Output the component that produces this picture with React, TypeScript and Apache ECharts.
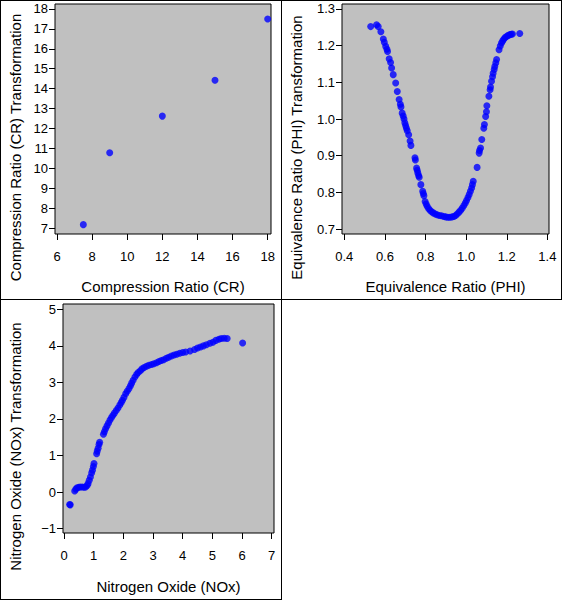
import React, { useEffect, useRef } from "react";
import * as echarts from "echarts";

// Compression Ratio
const crX = [7.5, 9, 12, 15, 18];
const crY = [7.17, 10.78, 12.62, 14.42, 17.5];

// Equivalence Ratio
const phiX = [0.530,0.559,0.567,0.580,0.592,0.597,0.604,0.610,0.613,0.621,0.628,0.633,0.641,0.653,0.661,0.670,0.676,0.679,0.685,0.690,0.694,0.698,0.702,0.706,0.710,0.717,0.724,0.728,0.748,0.750,0.756,0.759,0.762,0.766,0.769,0.777,0.786,0.789,0.792,0.798,0.803,0.808,0.815,0.822,0.830,0.838,0.848,0.857,0.868,0.879,0.890,0.900,0.910,0.920,0.930,0.940,0.948,0.956,0.965,0.973,0.981,0.989,0.996,1.002,1.009,1.015,1.021,1.027,1.031,1.035,1.054,1.064,1.066,1.071,1.077,1.087,1.090,1.096,1.100,1.102,1.112,1.118,1.120,1.125,1.130,1.133,1.138,1.141,1.146,1.150,1.162,1.168,1.174,1.180,1.186,1.192,1.199,1.207,1.215,1.222,1.228,1.264];
const phiY = [1.252,1.257,1.252,1.238,1.218,1.209,1.198,1.190,1.184,1.164,1.154,1.139,1.121,1.098,1.075,1.053,1.040,1.033,1.016,1.008,1.000,0.990,0.982,0.975,0.968,0.957,0.940,0.928,0.894,0.888,0.866,0.860,0.853,0.846,0.841,0.821,0.803,0.797,0.791,0.775,0.768,0.762,0.756,0.751,0.747,0.744,0.741,0.739,0.737,0.736,0.734,0.733,0.732,0.732,0.733,0.734,0.737,0.741,0.746,0.751,0.757,0.764,0.771,0.778,0.786,0.794,0.803,0.812,0.821,0.830,0.868,0.907,0.914,0.921,0.944,0.975,0.985,1.007,1.020,1.036,1.062,1.080,1.087,1.103,1.115,1.125,1.135,1.143,1.153,1.162,1.189,1.199,1.207,1.213,1.218,1.222,1.225,1.228,1.230,1.231,1.232,1.233];

// Nitrogen Oxide
const noxX = [0.19,0.21,0.36,0.40,0.44,0.50,0.55,0.62,0.68,0.73,0.78,0.81,0.85,0.89,0.93,0.96,0.99,1.01,1.10,1.12,1.15,1.18,1.20,1.33,1.36,1.40,1.45,1.50,1.55,1.60,1.65,1.70,1.76,1.82,1.88,1.93,1.97,2.02,2.08,2.13,2.19,2.24,2.28,2.33,2.39,2.45,2.50,2.57,2.63,2.70,2.78,2.86,2.95,3.03,3.12,3.20,3.28,3.36,3.45,3.53,3.62,3.71,3.80,3.90,4.00,4.10,4.25,4.40,4.50,4.60,4.70,4.80,4.92,5.02,5.12,5.22,5.30,5.40,5.50,6.02];
const noxY = [-0.34,-0.35,0.03,0.08,0.12,0.13,0.14,0.14,0.13,0.14,0.18,0.23,0.32,0.41,0.52,0.60,0.70,0.78,1.05,1.12,1.20,1.30,1.36,1.58,1.65,1.73,1.81,1.89,1.97,2.04,2.10,2.16,2.23,2.30,2.38,2.45,2.51,2.59,2.69,2.76,2.83,2.91,2.98,3.06,3.15,3.22,3.27,3.32,3.37,3.41,3.44,3.47,3.49,3.51,3.54,3.57,3.60,3.62,3.66,3.69,3.72,3.75,3.77,3.80,3.82,3.83,3.86,3.90,3.94,3.97,4.00,4.03,4.07,4.10,4.15,4.18,4.20,4.21,4.20,4.08];

// Tick values
const crXTicks = [6, 8, 10, 12, 14, 16, 18];
const crYTicks = [7, 8, 9, 10, 11, 12, 13, 14, 15, 16, 17, 18];
const phiXTicks = [0.4, 0.6, 0.8, 1.0, 1.2, 1.4];
const phiYTicks = [0.7, 0.8, 0.9, 1.0, 1.1, 1.2, 1.3];
const noxXTicks = [0, 1, 2, 3, 4, 5, 6, 7];
const noxYTicks = [-1, 0, 1, 2, 3, 4, 5];

const FONT = "'Liberation Sans', Arial, Helvetica, sans-serif";

const zip = (a: number[], b: number[]) => a.map((v, i) => [v, b[i]]);

function mkAxis(
  gridIndex: number,
  min: number,
  max: number,
  ticks: number[],
  fmt: (v: number) => string,
  isY: boolean
) {
  return {
    type: "value",
    gridIndex,
    min,
    max,
    position: isY ? "left" : "bottom",
    axisLine: { show: false, onZero: false },
    splitLine: { show: false },
    axisTick: {
      show: true,
      inside: false,
      length: 6,
      customValues: ticks,
      lineStyle: { color: "#000", width: 1 },
    },
    axisLabel: {
      show: true,
      customValues: ticks,
      formatter: (v: number) => fmt(v),
      color: "#000",
      fontFamily: FONT,
      fontSize: 13,
      margin: isY ? 7 : 16,
    },
  };
}

export default function App() {
  const ref = useRef<HTMLDivElement>(null);
  useEffect(() => {
    if (!ref.current) return;
    const chart = echarts.init(ref.current, null, { renderer: "svg" });
    const intFmt = (v: number) => (v < 0 ? "\u2212" + Math.abs(Math.round(v)) : String(Math.round(v)));
    const dec1 = (v: number) => v.toFixed(1);
    const gridStyle = {
      show: true,
      backgroundColor: "#C0C0C0",
      borderColor: "#000",
      borderWidth: 1,
      containLabel: false,
    };
    const titleStyle = (text: string) => ({
      text,
      font: `15px ${FONT}`,
      fill: "#000",
      textAlign: "center",
      textVerticalAlign: "middle",
    });
    const line = (x1: number, y1: number, x2: number, y2: number) => ({
      type: "line",
      shape: { x1, y1, x2, y2 },
      style: { stroke: "#000", lineWidth: 1 },
      silent: true,
    });
    const symbolStyle = { color: "#0000FF" };
    chart.setOption({
      animation: false,
      backgroundColor: "#FFFFFF",
      grid: [
        { ...gridStyle, left: 55, top: 4, width: 216, height: 230 },
        { ...gridStyle, left: 342, top: 4, width: 207, height: 230 },
        { ...gridStyle, left: 63, top: 304, width: 211, height: 229 },
      ],
      xAxis: [
        mkAxis(0, 5.886, 18.19, crXTicks, intFmt, false),
        mkAxis(1, 0.3887, 1.408, phiXTicks, dec1, false),
        mkAxis(2, -0.034, 7.078, noxXTicks, intFmt, false),
      ],
      yAxis: [
        mkAxis(0, 6.7, 18.25, crYTicks, intFmt, true),
        mkAxis(1, 0.6864, 1.3136, phiYTicks, dec1, true),
        mkAxis(2, -1.12, 5.145, noxYTicks, intFmt, true),
      ],
      series: [
        {
          type: "scatter",
          xAxisIndex: 0,
          yAxisIndex: 0,
          data: zip(crX, crY),
          symbol: "circle",
          symbolSize: 7,
          itemStyle: symbolStyle,
        },
        {
          type: "scatter",
          xAxisIndex: 1,
          yAxisIndex: 1,
          data: zip(phiX, phiY),
          symbol: "circle",
          symbolSize: 7,
          itemStyle: symbolStyle,
        },
        {
          type: "scatter",
          xAxisIndex: 2,
          yAxisIndex: 2,
          data: zip(noxX, noxY),
          symbol: "circle",
          symbolSize: 7,
          itemStyle: symbolStyle,
        },
      ],
      graphic: [
        line(0, 0.5, 562, 0.5),
        line(0.5, 0, 0.5, 600),
        line(561.5, 0, 561.5, 300),
        line(0, 299.5, 562, 299.5),
        line(281.5, 0, 281.5, 600),
        line(0, 599.5, 282, 599.5),
        { type: "text", x: 163, y: 286, style: titleStyle("Compression Ratio (CR)") },
        { type: "text", x: 445.5, y: 286, style: titleStyle("Equivalence Ratio (PHI)") },
        { type: "text", x: 168.5, y: 586, style: titleStyle("Nitrogen Oxide (NOx)") },
        {
          type: "text",
          x: 15.5,
          y: 147.5,
          rotation: Math.PI / 2,
          style: titleStyle("Compression Ratio (CR) Transformation"),
        },
        {
          type: "text",
          x: 296.5,
          y: 147.5,
          rotation: Math.PI / 2,
          style: titleStyle("Equivalence Ratio (PHI) Transformation"),
        },
        {
          type: "text",
          x: 15.5,
          y: 446.5,
          rotation: Math.PI / 2,
          style: titleStyle("Nitrogen Oxide (NOx) Transformation"),
        },
      ],
    });
    return () => chart.dispose();
  }, []);
  return (
    <div
      ref={ref}
      style={{ position: "fixed", left: 0, top: 0, width: 562, height: 600 }}
    />
  );
}
